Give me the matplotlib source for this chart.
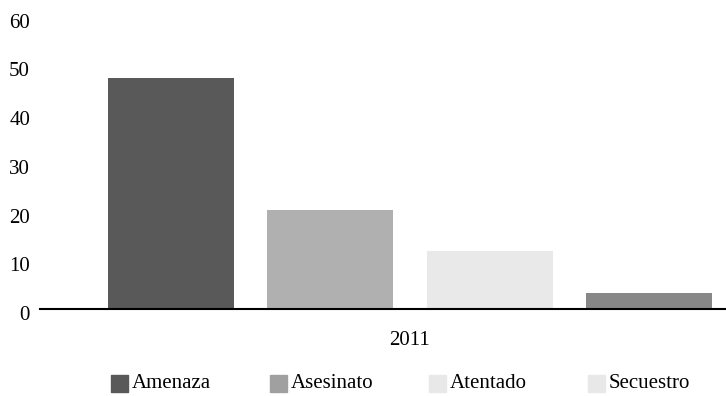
import matplotlib.pyplot as plt
import matplotlib.transforms as mtransforms
from matplotlib.patches import Rectangle

# hechos registrados por tipo, 2011
categories = ['Amenaza', 'Asesinato', 'Atentado', 'Secuestro']
values = [47.4, 20.4, 12.0, 3.3]
year = '2011'
y_ticks = [0, 10, 20, 30, 40, 50, 60]

bar_colors = ['#595959', '#b0b0b0', '#e8e9e8', '#878787']
legend_colors = ['#595959', '#a0a0a0', '#e8e8e8', '#e8e8e8']

plt.rcParams['font.family'] = ['Liberation Serif', 'DejaVu Serif']
plt.rcParams['font.size'] = 15

W, H = 726, 396
fig = plt.figure(figsize=(W / 100, H / 100), dpi=100)
ax = fig.add_axes([40 / W, (H - 309) / H, 686 / W, (309 - 16.5) / H])

# four bars grouped around the single year
offsets = [-1.5, -0.5, 0.5, 1.5]
width = 0.79
for off, val, col in zip(offsets, values, bar_colors):
    ax.bar(off, val, width=width, color=col, zorder=2)

ax.set_xlim(-2.323, 1.984)
ax.set_ylim(0, 60)
ax.set_yticks(y_ticks)
ax.set_xticks([0])
ax.set_xticklabels([year])
ax.tick_params(axis='y', length=0, pad=7.2, labelsize=15)
ax.tick_params(axis='x', length=0, pad=16, labelsize=15)

# nudge the y labels slightly below their gridline position
shift = mtransforms.ScaledTranslation(0, -3 / 72, fig.dpi_scale_trans)
for lbl in ax.get_yticklabels():
    lbl.set_transform(lbl.get_transform() + shift)

for side in ['top', 'right', 'left']:
    ax.spines[side].set_visible(False)
ax.spines['bottom'].set_linewidth(1.5)
ax.spines['bottom'].set_color('black')
ax.spines['bottom'].set_zorder(3)

# legend row along the bottom
sw_x = [111, 270, 429, 588]
leg_y = 383
sw = 17
for name, col, sx in zip(categories, legend_colors, sw_x):
    fig.patches.append(Rectangle((sx / W, (H - leg_y - sw / 2) / H), sw / W, sw / H,
                                 transform=fig.transFigure, color=col))
    fig.text((sx + sw + 4) / W, (H - leg_y) / H, name, ha='left', va='center', fontsize=15)

fig.savefig('out.png', dpi=100)
